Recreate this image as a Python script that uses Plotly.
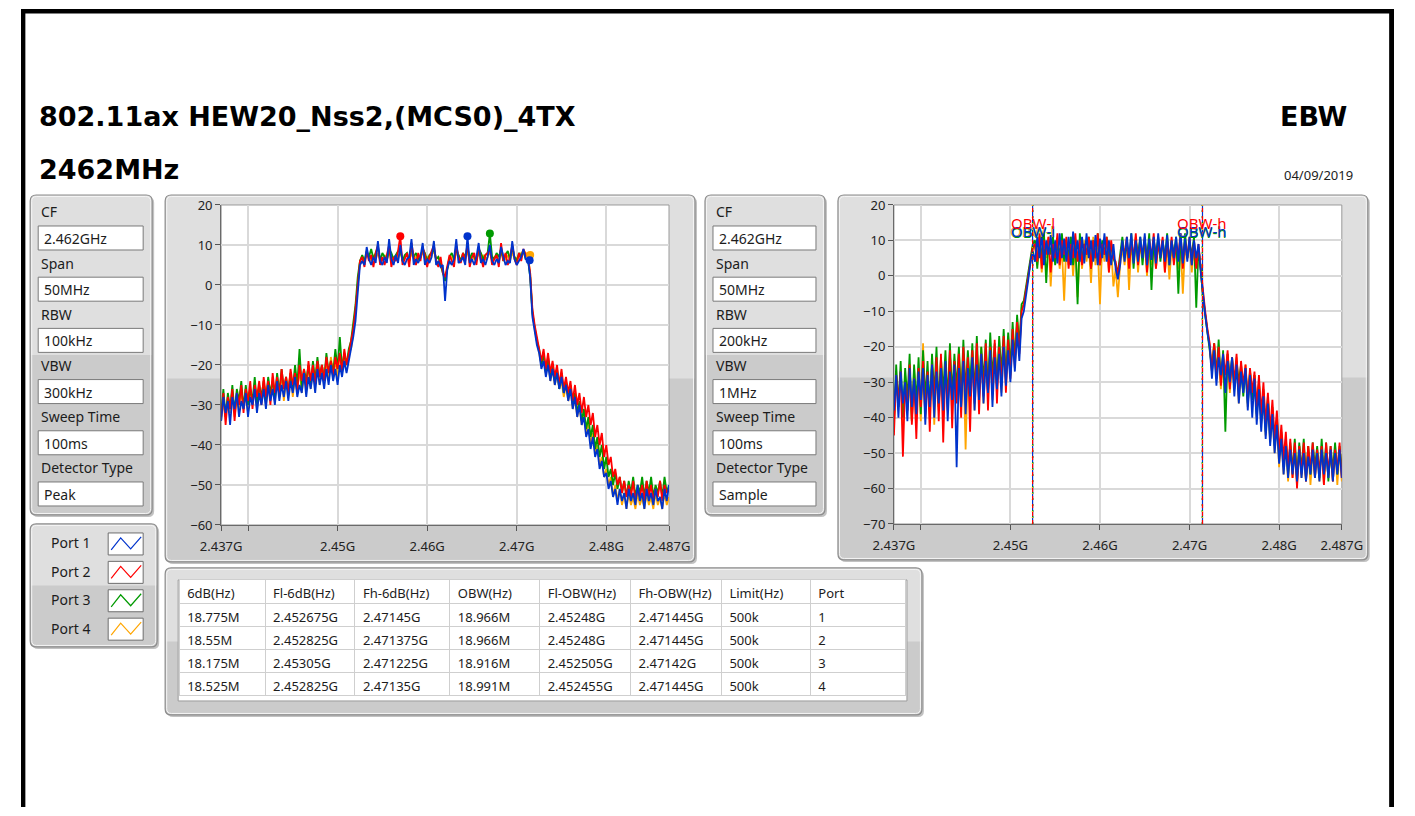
import numpy as np
import plotly.graph_objects as go

W, H = 1415, 816
FONT = "Noto Sans"
TITLE_FONT = "DejaVu Sans"
# the photographed page is shown inset (scaled and centred); positions below are
# written in the reference picture's pixels and mapped back onto the figure.
SX, BX = 0.9706, 20.8
SY, BY = 0.978, 9.0

# ------------------------------------------------------------------ data
START_GHZ = 2.437
STOP_GHZ = 2.487
PORTS = ["Port 1", "Port 2", "Port 3", "Port 4"]
PORT_COLORS = ["#0033cc", "#ff0000", "#009a00", "#ffa500"]

# Left graph: Peak detector, RBW 100 kHz (dBm) - one sweep per port
PK_P1 = [-34, -28, -32, -29, -35, -28, -31, -27, -33, -29, -31, -27, -33, -28, -30, -26, -32, -27, -30, -26,
         -31, -25, -29, -26, -30, -24, -29, -25, -28, -24, -29, -24, -27, -23, -28, -25, -27, -22, -28, -23,
         -26, -22, -27, -21, -25, -22, -26, -21, -25, -20, -24, -21, -25, -20, -23, -19, -22, -19,
         -17, -13, -9, -1, 5,
         6, 5, 9.5, 6.5, 5, 7, 5.5, 11, 6, 5, 7, 5.5, 11.5, 6.5, 5, 7.5, 5.5, 10, 6, 5,
         6.5, 7, 11.5, 5, 6.5, 5.5, 7, 10.5, 5, 6.5, 5.5, 7, 11, 5, 6, 4.5, 5, -4, 4, 6,
         5, 6.5, 11.5, 5.5, 6, 7, 5, 12.2, 5.5, 6.5, 5, 7, 10.5, 5.5, 6.5, 5, 7, 10, 6, 5,
         6.5, 5.5, 9.5, 7, 5, 6, 5.5, 11, 6.5, 5, 6, 7, 9, 6.5,
         6.5, 2, -8, -12, -15,
         -17, -21, -19, -23, -20, -24, -21, -25, -22, -26, -23, -27, -25, -29, -26, -31, -28, -33, -30, -35,
         -33, -38, -36, -41, -38, -43, -41, -46, -44, -48, -47, -51, -49, -53, -51, -55, -51, -54, -52, -56,
         -51, -54, -52, -55, -50, -54, -52, -56, -51, -54, -52, -55, -51, -54, -53, -56, -51, -54, -50]
PK_P2 = [-33, -27, -35, -28, -31, -26, -34, -27, -30, -25, -32, -26, -29, -24, -31, -25, -28, -24, -30, -23,
         -28, -24, -30, -22, -27, -23, -28, -21, -26, -23, -27, -21, -25, -22, -27, -20, -24, -21, -26, -19,
         -24, -20, -25, -19, -23, -20, -24, -18, -22, -19, -23, -18, -21, -17, -22, -16, -20, -17,
         -15, -11, -6, 1, 6,
         7, 4.5, 8.5, 6, 7.5, 4.5, 8, 10, 5, 7, 5, 8, 10, 4.5, 7, 6, 8.5, 12.2, 5, 6.5,
         8, 4.5, 10.5, 7, 5, 8, 6, 9.5, 7.5, 4.5, 7, 8.5, 10, 6, 4.5, 7, 3, 2, 5, 7.5,
         6, 4.5, 10, 7, 5.5, 8, 6, 10.5, 4.5, 7, 8, 5, 9.5, 6.5, 4.5, 7.5, 8, 9, 5, 6.5,
         7.5, 4.5, 10.5, 6, 8, 5, 7, 10, 6.5, 5, 8, 6, 9, 7.5,
         7, 3, -6, -10, -13,
         -15, -19, -16, -21, -17, -22, -19, -23, -20, -25, -21, -26, -23, -27, -24, -29, -25, -30, -27, -32,
         -28, -33, -30, -35, -32, -38, -35, -40, -37, -43, -40, -45, -43, -48, -46, -50, -48, -52, -49, -53,
         -50, -53, -49, -54, -51, -53, -50, -54, -49, -53, -50, -54, -51, -53, -49, -54, -50, -52, -51]
PK_P3 = [-32, -26, -33, -27, -31, -25, -32, -26, -29, -24, -31, -25, -30, -26, -29, -23, -30, -25, -28, -24,
         -29, -23, -27, -24, -28, -22, -27, -21, -26, -23, -27, -22, -26, -20, -25, -16, -26, -21, -24, -20,
         -25, -19, -24, -18, -23, -20, -24, -17, -22, -19, -22, -16, -21, -13, -21, -17, -20, -16,
         -14, -10, -5, 2, 6,
         7.5, 6, 8, 7, 9, 6.5, 8, 9.5, 6, 8, 7, 6, 9, 8, 6.5, 7.5, 8.5, 9, 6, 7.5,
         8, 6, 9.5, 7, 8, 6.5, 7, 9, 8, 6, 7.5, 8, 9, 6.5, 7, 5, 3, 1, 4, 7,
         8, 6.5, 9, 7.5, 6, 8, 7, 9.5, 6.5, 8, 7, 6, 9, 8, 6.5, 7.5, 8, 12.9, 7, 6.5,
         8, 7, 9, 6, 7.5, 8.5, 6.5, 9.5, 7, 6, 8, 7, 8.5, 6.5,
         6.5, 2, -7, -11, -14,
         -16, -20, -17, -22, -18, -23, -20, -24, -21, -26, -22, -27, -24, -28, -25, -30, -27, -32, -29, -34,
         -31, -36, -33, -38, -35, -41, -38, -43, -40, -46, -43, -48, -46, -50, -47, -51, -48, -52, -49, -53,
         -49, -52, -48, -53, -50, -52, -48, -53, -49, -52, -48, -53, -50, -52, -49, -53, -48, -52, -50]
PK_P4 = [-34, -29, -33, -28, -32, -27, -33, -28, -31, -27, -30, -26, -32, -27, -29, -25, -31, -26, -28, -24,
         -30, -25, -28, -23, -29, -24, -27, -22, -29, -24, -26, -22, -28, -23, -26, -21, -27, -22, -25, -20,
         -26, -21, -24, -19, -25, -20, -23, -19, -24, -18, -22, -19, -23, -17, -21, -18, -20, -17,
         -16, -12, -6, 1, 6,
         7, 6, 8.5, 7, 6, 7.5, 6.5, 8, 7, 6, 7.5, 6.5, 8, 7, 6, 7.5, 6.5, 8.5, 6, 7,
         7.5, 6, 8, 6.5, 7, 6, 7.5, 8, 6.5, 7, 6, 7.5, 8.5, 6.5, 7, 5.5, 4, 1.5, 4.5, 6.5,
         7, 6, 8, 7.5, 6, 7, 6.5, 8.5, 6, 7.5, 6.5, 7, 8, 6, 7.5, 6.5, 7, 8.5, 6, 7,
         7.5, 6, 8, 7, 6.5, 7.5, 6, 8, 7, 6.5, 7.5, 8, 8.5, 8,
         7.5, 3, -7, -11, -14,
         -16, -20, -18, -22, -19, -24, -21, -25, -22, -26, -24, -28, -25, -29, -26, -31, -28, -33, -30, -35,
         -32, -37, -34, -40, -37, -42, -40, -45, -43, -48, -46, -50, -48, -53, -50, -54, -51, -55, -52, -56,
         -52, -55, -53, -56, -52, -55, -53, -56, -52, -55, -53, -56, -52, -55, -53, -56, -52, -55, -53]

# Right graph: Sample detector, RBW 200 kHz (dBm)
SM_P1 = [-38, -28, -40, -27, -36, -30, -41, -26, -37, -29, -39, -27, -35, -26, -42, -28, -37, -25, -40, -27,
         -36, -26, -38, -24, -41, -27, -35, -25, -54, -26, -37, -24, -39, -26, -34, -23, -38, -25, -35, -22,
         -36, -24, -33, -21, -37, -23, -32, -22, -34, -20, -31, -21, -30, -18, -27, -16, -24, -12,
         -10, -6, -1, 4, 7,
         4, 11, 5, 12, 3, 10, 6, 11.5, 4, 10, 3.5, 12, 5, 10.5, 4, 11, 3, 12.5, 5, 10,
         4, 11, 3.5, 12, 5, 10, 4, 11.5, 3, 10.5, 5, 12, 4, 10, 3, 9, 2, -1, 3, 10,
         4, 11, 5, 12, 3.5, 10, 4, 11, 5, 12, 3, 10.5, 4.5, 11, 3.5, 12, 5, 10, 4, 11.5,
         3, 10, 5, 11, 4, 12, 3.5, 10.5, 4, 11, 3, 10, 5, 9,
         1, -6, -11, -16, -20,
         -29, -21, -31, -23, -28, -22, -33, -24, -30, -23, -34, -25, -36, -27, -33, -26, -38, -28, -40, -29,
         -42, -32, -44, -34, -46, -36, -48, -39, -50, -42, -53, -46, -56, -48, -57, -49, -56, -50, -58, -49,
         -57, -50, -58, -51, -56, -49, -57, -50, -58, -49, -56, -50, -57, -49, -58, -50, -56, -49, -57]
SM_P2 = [-45, -28, -36, -27, -51, -30, -38, -25, -42, -29, -46, -26, -37, -24, -40, -27, -44, -25, -36, -23,
         -41, -22, -47, -25, -38, -21, -43, -24, -36, -22, -40, -20, -35, -23, -44, -21, -36, -19, -39, -22,
         -34, -19, -38, -20, -33, -18, -36, -20, -31, -17, -33, -18, -29, -15, -26, -13, -22, -10,
         -8, -4, 0, 5, 8,
         9, 4, 12, 2, 10, 6, 11, 1, 9, 5, 12, 3, 10, 6, 11, 2, 9, 5, 12, 4,
         10, 3, 9, 6, 11, 2, 10, 5, 12, 3, 9, 6, 11, 1, 10, 5, 4, 0, 5, 9,
         6, 11, 2, 10, 5, 12, 3, 9, 6, 11, 1, 10, 5, 12, 2, 9, 6, 11, 1, 10,
         4, 11, 3, 9, 6, 12, 2, 10, 5, 11, 3, 10, 2, 9,
         2, -5, -10, -15, -19,
         -27, -19, -29, -20, -31, -22, -28, -21, -32, -23, -30, -22, -34, -24, -31, -25, -35, -26, -33, -27,
         -37, -28, -39, -30, -42, -33, -44, -35, -46, -38, -50, -42, -52, -44, -55, -46, -57, -47, -60, -48,
         -56, -47, -58, -48, -55, -47, -57, -49, -56, -48, -59, -47, -56, -48, -58, -49, -55, -47, -57]
SM_P3 = [-42, -25, -37, -24, -40, -26, -35, -22, -41, -25, -36, -23, -39, -21, -35, -24, -38, -22, -34, -20,
         -37, -23, -33, -21, -36, -19, -34, -22, -32, -20, -35, -18, -33, -21, -31, -19, -34, -17, -32, -20,
         -30, -18, -33, -16, -29, -19, -31, -17, -28, -15, -29, -16, -26, -13, -24, -11, -20, -8,
         -7, -3, 1, 6, 9,
         10, 2, 11, 5, 12, -2, 10, 6, 11, 3, 9, 6, 12, 4, 10, 5, 11, 3, 10, -8,
         12, 4, 9, 6, 11, 2, 10, 5, 12, 3, 10, 6, 11, 4, 9, 5, 3, 1, 6, 11,
         5, 9, 4, 12, 2, 10, 6, 11, 3, 10, 5, 12, -4, 10, 6, 11, 4, 10, 5, 12,
         3, 10, 6, 11, -5, 10, 4, 12, 5, 9, 6, 11, -9, 8,
         2, -6, -11, -16, -20,
         -26, -19, -28, -18, -30, -21, -44, -22, -29, -23, -32, -24, -30, -25, -34, -26, -36, -27, -35, -28,
         -39, -30, -41, -32, -44, -34, -46, -37, -48, -40, -51, -44, -54, -46, -56, -47, -55, -46, -57, -47,
         -55, -46, -57, -48, -56, -47, -54, -48, -57, -46, -56, -47, -58, -48, -55, -47, -56, -48, -54]
SM_P4 = [-40, -29, -37, -27, -43, -28, -38, -30, -41, -26, -37, -28, -41, -19, -39, -27, -36, -25, -42, -26,
         -38, -23, -40, -25, -36, -22, -39, -24, -34, -21, -37, -22, -49, -25, -35, -21, -38, -23, -33, -20,
         -36, -22, -32, -19, -35, -21, -31, -18, -33, -19, -30, -17, -28, -15, -25, -12, -21, -9,
         -8, -4, 0, 5, 8,
         8, 3, 10, 1, 9, 5, 11, -3, 9, 4, 10, 2, 8, -7, 9, 3, 11, 0, 9, -6,
         8, 2, 10, 4, 9, -2, 11, 3, 8, -8, 9, 4, 10, 1, 8, -3, 2, -6, 3, 8,
         3, 10, -4, 9, 4, 11, 1, 9, 5, 10, 0, 8, 3, 10, 2, 9, 5, 10, 1, 9,
         -1, 8, 4, 10, 2, 9, -5, 8, 5, 10, 1, 9, 3, 8,
         2, -6, -11, -16, -20,
         -27, -19, -29, -21, -32, -23, -30, -22, -33, -24, -31, -23, -36, -26, -33, -25, -37, -27, -34, -28,
         -40, -30, -42, -33, -45, -35, -47, -38, -50, -41, -54, -45, -56, -47, -58, -48, -57, -49, -59, -48,
         -57, -49, -58, -48, -59, -49, -57, -50, -58, -48, -59, -49, -57, -50, -58, -48, -59, -49, -58]

PEAK_TRACES = [PK_P1, PK_P2, PK_P3, PK_P4]
SAMPLE_TRACES = [SM_P1, SM_P2, SM_P3, SM_P4]

# peak markers on the left graph (port index, GHz, dBm)
MARK_PORT = [1, 0, 2, 3, 0]
MARK_GHZ = [2.457, 2.4645, 2.467, 2.4715, 2.47144]
MARK_DBM = [12.2, 12.2, 12.9, 7.5, 6.2]

# OBW cursors on the right graph (per port)
OBW_L_GHZ = [2.45248, 2.45248, 2.452505, 2.452455]
OBW_H_GHZ = [2.471445, 2.471445, 2.47142, 2.471445]
OBW_LABEL_DBM = [12.8, 15.0, 12.3, 12.6]

X_TICKS = [2.437, 2.44, 2.45, 2.46, 2.47, 2.48, 2.487]
X_TICK_TEXT = ["2.437G", "", "2.45G", "2.46G", "2.47G", "2.48G", "2.487G"]
Y1_RANGE = [-60, 20]
Y2_RANGE = [-70, 20]

SET_LABELS = ["CF", "Span", "RBW", "VBW", "Sweep Time", "Detector Type"]
SET_LEFT = ["2.462GHz", "50MHz", "100kHz", "300kHz", "100ms", "Peak"]
SET_RIGHT = ["2.462GHz", "50MHz", "200kHz", "1MHz", "100ms", "Sample"]

TABLE_HEADERS = ["6dB(Hz)", "Fl-6dB(Hz)", "Fh-6dB(Hz)", "OBW(Hz)", "Fl-OBW(Hz)", "Fh-OBW(Hz)", "Limit(Hz)", "Port"]
T_6DB = ["18.775M", "18.55M", "18.175M", "18.525M"]
T_FL6 = ["2.452675G", "2.452825G", "2.45305G", "2.452825G"]
T_FH6 = ["2.47145G", "2.471375G", "2.471225G", "2.47135G"]
T_OBW = ["18.966M", "18.966M", "18.916M", "18.991M"]
T_FLO = ["2.45248G", "2.45248G", "2.452505G", "2.452455G"]
T_FHO = ["2.471445G", "2.471445G", "2.47142G", "2.471445G"]
T_LIM = ["500k", "500k", "500k", "500k"]
T_PORT = ["1", "2", "3", "4"]

TITLE = "802.11ax HEW20_Nss2,(MCS0)_4TX"
SUBTITLE = "2462MHz"
RIGHT_TITLE = "EBW"
DATE = "04/09/2019"


# ------------------------------------------------------------------ helpers (reference pixel -> paper)
def px(x):
    return ((x - BX) / SX) / W


def py(y):
    return 1 - ((y - BY) / SY) / H


def pp(x, y):
    return f"{px(x):.6f},{py(y):.6f}"


def rrect_path(x0, y0, x1, y1, r):
    return (f"M{pp(x0 + r, y0)} L{pp(x1 - r, y0)} Q{pp(x1, y0)} {pp(x1, y0 + r)} "
            f"L{pp(x1, y1 - r)} Q{pp(x1, y1)} {pp(x1 - r, y1)} L{pp(x0 + r, y1)} "
            f"Q{pp(x0, y1)} {pp(x0, y1 - r)} L{pp(x0, y0 + r)} Q{pp(x0, y0)} {pp(x0 + r, y0)} Z")


def top_half_path(x0, y0, x1, ym, r):
    return (f"M{pp(x0, ym)} L{pp(x0, y0 + r)} Q{pp(x0, y0)} {pp(x0 + r, y0)} "
            f"L{pp(x1 - r, y0)} Q{pp(x1, y0)} {pp(x1, y0 + r)} L{pp(x1, ym)} Z")


shapes = []
annotations = []


def add_path(path, fill=None, line=None, lw=1, layer="below"):
    shapes.append(dict(type="path", path=path, xref="paper", yref="paper", layer=layer,
                       fillcolor=fill if fill else "rgba(0,0,0,0)",
                       line=dict(color=line if line else "rgba(0,0,0,0)", width=lw if line else 0)))


def add_rect(x0, y0, x1, y1, fill=None, line=None, lw=1, layer="below"):
    shapes.append(dict(type="rect", xref="paper", yref="paper", layer=layer,
                       x0=px(x0), x1=px(x1), y0=py(y1), y1=py(y0),
                       fillcolor=fill if fill else "rgba(0,0,0,0)",
                       line=dict(color=line if line else "rgba(0,0,0,0)", width=lw if line else 0)))


def add_text(x, y, s, size=13, color="#1c1c1c", weight="normal", xanchor="left", family=FONT):
    annotations.append(dict(x=px(x), y=py(y), xref="paper", yref="paper", text=s, showarrow=False,
                            xanchor=xanchor, yanchor="middle",
                            font=dict(family=family, size=size, color=color, weight=weight)))


def panel(x0, y0, x1, y1, r=6):
    add_path(rrect_path(x0 + 2, y0 + 2, x1 + 2, y1 + 2, r), fill="rgba(120,120,120,0.45)")
    add_path(rrect_path(x0, y0, x1, y1, r), fill="#cbcbcb")
    add_path(top_half_path(x0, y0, x1, (y0 + y1) / 2, r), fill="#dfdfdf")
    add_path(rrect_path(x0 + 1.5, y0 + 1.5, x1 - 1.5, y1 - 1.5, r - 1), line="#f4f4f4", lw=1)
    add_path(rrect_path(x0, y0, x1, y1, r), line="#8c8c8c", lw=1.2)


# ------------------------------------------------------------------ page frame (at the figure edges)
shapes.append(dict(type="rect", xref="paper", yref="paper", layer="above", x0=0, x1=1, y0=1 - 4.5 / H, y1=1,
                   fillcolor="black", line=dict(width=0)))
shapes.append(dict(type="rect", xref="paper", yref="paper", layer="above", x0=0, x1=4.5 / W, y0=0, y1=1,
                   fillcolor="black", line=dict(width=0)))
shapes.append(dict(type="rect", xref="paper", yref="paper", layer="above", x0=1 - 5 / W, x1=1, y0=0, y1=1,
                   fillcolor="black", line=dict(width=0)))

add_text(37, 117, TITLE, size=27, color="#000000", weight="bold", family=TITLE_FONT)
add_text(37, 170, SUBTITLE, size=27, color="#000000", weight="bold", family=TITLE_FONT)
add_text(1349, 117, RIGHT_TITLE, size=27, color="#000000", weight="bold", xanchor="right", family=TITLE_FONT)
add_text(1355, 175, DATE, size=13, color="#1c1c1c", xanchor="right")


# ------------------------------------------------------------------ settings panels
def settings(x0, x1, values):
    panel(x0, 195, x1, 515)
    for i, (lab, val) in enumerate(zip(SET_LABELS, values)):
        add_text(x0 + 9, 212 + i * 51.2, lab, size=14)
        by = 226 + i * 51.2
        add_rect(x0 + 8, by, x1 - 9, by + 24, fill="white", line="#7a7a7a", lw=1)
        add_text(x0 + 12, by + 12.5, val, size=14)


settings(30, 152, SET_LEFT)
settings(705, 825, SET_RIGHT)

# ------------------------------------------------------------------ graph panels
L_PLOT = (221, 205, 669, 525)
R_PLOT = (894, 205, 1342, 524)
panel(165, 195, 695, 562)
panel(838, 195, 1368, 560)
add_rect(*L_PLOT, fill="white", line="#9a9a9a", lw=1)
add_rect(*R_PLOT, fill="white", line="#9a9a9a", lw=1)

# ------------------------------------------------------------------ legend panel
panel(30, 524, 157, 647)
for i, name in enumerate(PORTS):
    top = 533 + i * 28.4
    add_text(49, top + 10, name, size=14)
    add_rect(108, top, 143, top + 22, fill="white", line="#6e6e6e", lw=1)
    zz = f"M{pp(111, top + 17)} L{pp(120.5, top + 5)} L{pp(130.5, top + 16)} L{pp(141, top + 4)}"
    add_path(zz, line=PORT_COLORS[i], lw=1.2)

# ------------------------------------------------------------------ table panel
panel(165, 568, 922, 715)
add_rect(178, 580, 907, 701, fill="white", line="#9a9a9a", lw=1)

# ------------------------------------------------------------------ figure
fig = go.Figure()

for idx in [3, 2, 1, 0]:
    yv = PEAK_TRACES[idx]
    fig.add_trace(go.Scatter(x=np.linspace(START_GHZ, STOP_GHZ, len(yv)), y=yv, mode="lines",
                             line=dict(color=PORT_COLORS[idx], width=1.8), xaxis="x", yaxis="y",
                             hoverinfo="skip"))
for p, f, v in zip(MARK_PORT, MARK_GHZ, MARK_DBM):
    fig.add_trace(go.Scatter(x=[f], y=[v], mode="markers", marker=dict(color=PORT_COLORS[p], size=8),
                             xaxis="x", yaxis="y", hoverinfo="skip"))

for idx in [3, 2, 1, 0]:
    yv = SAMPLE_TRACES[idx]
    fig.add_trace(go.Scatter(x=np.linspace(START_GHZ, STOP_GHZ, len(yv)), y=yv, mode="lines",
                             line=dict(color=PORT_COLORS[idx], width=1.8), xaxis="x2", yaxis="y2",
                             hoverinfo="skip"))

dashes = ["solid", "4px,4px", "2px,4px", "1px,5px"]
for idx in [0, 2, 3, 1]:
    for f in (OBW_L_GHZ[idx], OBW_H_GHZ[idx]):
        fig.add_trace(go.Scatter(x=[f, f], y=Y2_RANGE, mode="lines",
                                 line=dict(color=PORT_COLORS[idx], width=1.2, dash=dashes[idx]),
                                 xaxis="x2", yaxis="y2", hoverinfo="skip"))
for idx in [3, 2, 0, 1]:
    for f, lab in ((OBW_L_GHZ[idx], "OBW-l"), (OBW_H_GHZ[idx], "OBW-h")):
        annotations.append(dict(x=f, y=OBW_LABEL_DBM[idx], xref="x2", yref="y2", text=lab, showarrow=False,
                                xanchor="center", yanchor="middle",
                                font=dict(family=FONT, size=15, color=PORT_COLORS[idx])))

fig.add_trace(go.Table(
    domain=dict(x=[px(179), px(906)], y=[py(698), py(580)]),
    columnwidth=[86, 90, 95, 90, 91, 91, 89, 95],
    header=dict(values=TABLE_HEADERS, fill_color="white", line_color="#cfcfcf", align="left",
                font=dict(family=FONT, size=13, color="#1c1c1c"), height=24),
    cells=dict(values=[T_6DB, T_FL6, T_FH6, T_OBW, T_FLO, T_FHO, T_LIM, T_PORT],
               fill_color="white", line_color="#cfcfcf", align="left",
               font=dict(family=FONT, size=13, color="#1c1c1c"), height=23),
))

axis_common = dict(showgrid=True, gridcolor="#d9d9d9", gridwidth=1.5, zeroline=False,
                   showline=True, linecolor="#6a6a6a", linewidth=1, ticks="outside", ticklen=5,
                   tickcolor="#555555", tickfont=dict(family=FONT, size=13, color="#222222"))

fig.update_layout(
    width=W, height=H, margin=dict(l=0, r=0, t=0, b=0),
    paper_bgcolor="white", plot_bgcolor="rgba(0,0,0,0)", showlegend=False, hovermode=False,
    xaxis=dict(domain=[px(L_PLOT[0]), px(L_PLOT[2])], range=[START_GHZ, STOP_GHZ], anchor="y",
               tickvals=X_TICKS, ticktext=X_TICK_TEXT, ticklabelstandoff=4, **axis_common),
    yaxis=dict(domain=[py(L_PLOT[3]), py(L_PLOT[1])], range=Y1_RANGE, anchor="x", dtick=10,
               **axis_common),
    xaxis2=dict(domain=[px(R_PLOT[0]), px(R_PLOT[2])], range=[START_GHZ, STOP_GHZ], anchor="y2",
                tickvals=X_TICKS, ticktext=X_TICK_TEXT, ticklabelstandoff=4, **axis_common),
    yaxis2=dict(domain=[py(R_PLOT[3]), py(R_PLOT[1])], range=Y2_RANGE, anchor="x2", dtick=10,
                **axis_common),
    shapes=shapes, annotations=annotations,
)

fig.write_html("out.html", config={"displayModeBar": False},
               post_script="document.body.style.margin='0px';")
